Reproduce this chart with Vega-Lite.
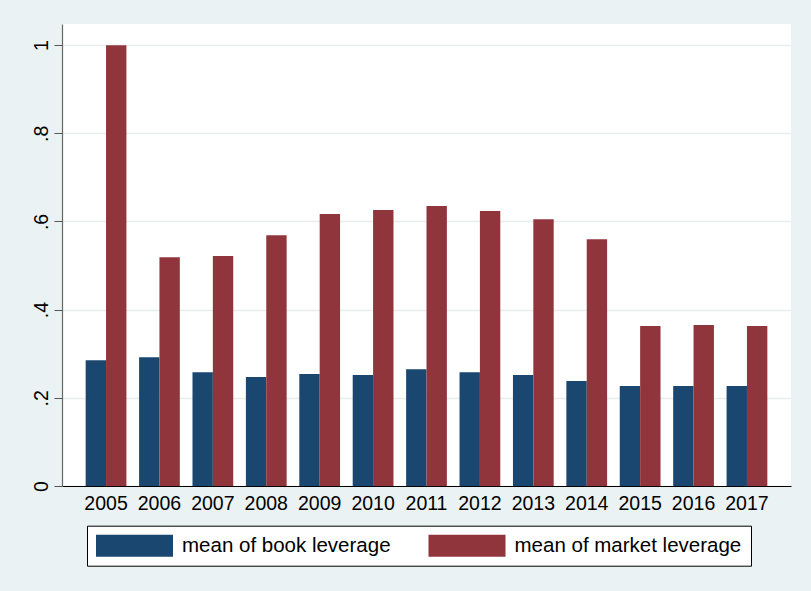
{
  "$schema": "https://vega.github.io/schema/vega-lite/v6.json",
  "width": 729,
  "height": 462,
  "autosize": {"type": "none"},
  "padding": {"left": 62, "top": 24, "right": 20, "bottom": 105},
  "background": "#EAF2F3",
  "view": {"fill": "white", "stroke": null},
  "config": {"font": "Liberation Sans"},
  "data": {
    "values": [
      {"year": "2005", "series": "mean of book leverage", "value": 0.285},
      {"year": "2005", "series": "mean of market leverage", "value": 1.0},
      {"year": "2006", "series": "mean of book leverage", "value": 0.292},
      {"year": "2006", "series": "mean of market leverage", "value": 0.519},
      {"year": "2007", "series": "mean of book leverage", "value": 0.258},
      {"year": "2007", "series": "mean of market leverage", "value": 0.522},
      {"year": "2008", "series": "mean of book leverage", "value": 0.247},
      {"year": "2008", "series": "mean of market leverage", "value": 0.569},
      {"year": "2009", "series": "mean of book leverage", "value": 0.254},
      {"year": "2009", "series": "mean of market leverage", "value": 0.617},
      {"year": "2010", "series": "mean of book leverage", "value": 0.252},
      {"year": "2010", "series": "mean of market leverage", "value": 0.626},
      {"year": "2011", "series": "mean of book leverage", "value": 0.265},
      {"year": "2011", "series": "mean of market leverage", "value": 0.635},
      {"year": "2012", "series": "mean of book leverage", "value": 0.258},
      {"year": "2012", "series": "mean of market leverage", "value": 0.624},
      {"year": "2013", "series": "mean of book leverage", "value": 0.252},
      {"year": "2013", "series": "mean of market leverage", "value": 0.605},
      {"year": "2014", "series": "mean of book leverage", "value": 0.238},
      {"year": "2014", "series": "mean of market leverage", "value": 0.560},
      {"year": "2015", "series": "mean of book leverage", "value": 0.227},
      {"year": "2015", "series": "mean of market leverage", "value": 0.363},
      {"year": "2016", "series": "mean of book leverage", "value": 0.227},
      {"year": "2016", "series": "mean of market leverage", "value": 0.365},
      {"year": "2017", "series": "mean of book leverage", "value": 0.227},
      {"year": "2017", "series": "mean of market leverage", "value": 0.363}
    ]
  },
  "mark": {"type": "bar"},
  "encoding": {
    "x": {
      "field": "year",
      "type": "nominal",
      "scale": {"paddingInner": 0.237, "paddingOuter": 0.443},
      "axis": {
        "title": null,
        "labelAngle": 0,
        "labelFontSize": 19.5,
        "labelColor": "#000000",
        "labelPadding": 8,
        "ticks": false,
        "domainColor": "#000000",
        "domainWidth": 1.2,
        "grid": false
      }
    },
    "xOffset": {
      "field": "series",
      "type": "nominal",
      "scale": {"paddingInner": 0, "paddingOuter": 0}
    },
    "y": {
      "field": "value",
      "type": "quantitative",
      "scale": {"domain": [0, 1.048], "nice": false, "zero": true},
      "axis": {
        "title": null,
        "values": [0, 0.2, 0.4, 0.6, 0.8, 1],
        "labelExpr": "{'0.0':'0','0.2':'.2','0.4':'.4','0.6':'.6','0.8':'.8','1.0':'1'}[format(datum.value, '.1f')]",
        "labelAngle": -90,
        "labelAlign": "center",
        "labelBaseline": "bottom",
        "labelFontSize": 19.5,
        "labelColor": "#000000",
        "labelPadding": 3,
        "tickSize": 8,
        "tickColor": "#555555",
        "domainColor": "#666666",
        "domainWidth": 1.2,
        "grid": true,
        "gridColor": "#E6EEF0",
        "gridWidth": 1.5
      }
    },
    "color": {
      "field": "series",
      "type": "nominal",
      "scale": {
        "domain": ["mean of book leverage", "mean of market leverage"],
        "range": ["#1A476F", "#90353B"]
      },
      "legend": {
        "title": null,
        "orient": "none",
        "legendX": 25,
        "legendY": 501.7,
        "direction": "horizontal",
        "symbolType": "M-3.5,-1H3.5V1H-3.5Z",
        "symbolSize": 484,
        "symbolOffset": 27.5,
        "symbolStrokeWidth": 0,
        "labelFontSize": 20.5,
        "labelColor": "#000000",
        "labelOffset": 36.5,
        "labelLimit": 400,
        "labelExpr": "datum.label == 'mean of market leverage' ? datum.label + '   ' : datum.label",
        "columnPadding": 37.5,
        "padding": 9,
        "fillColor": "white",
        "strokeColor": "#000000"
      }
    }
  }
}
